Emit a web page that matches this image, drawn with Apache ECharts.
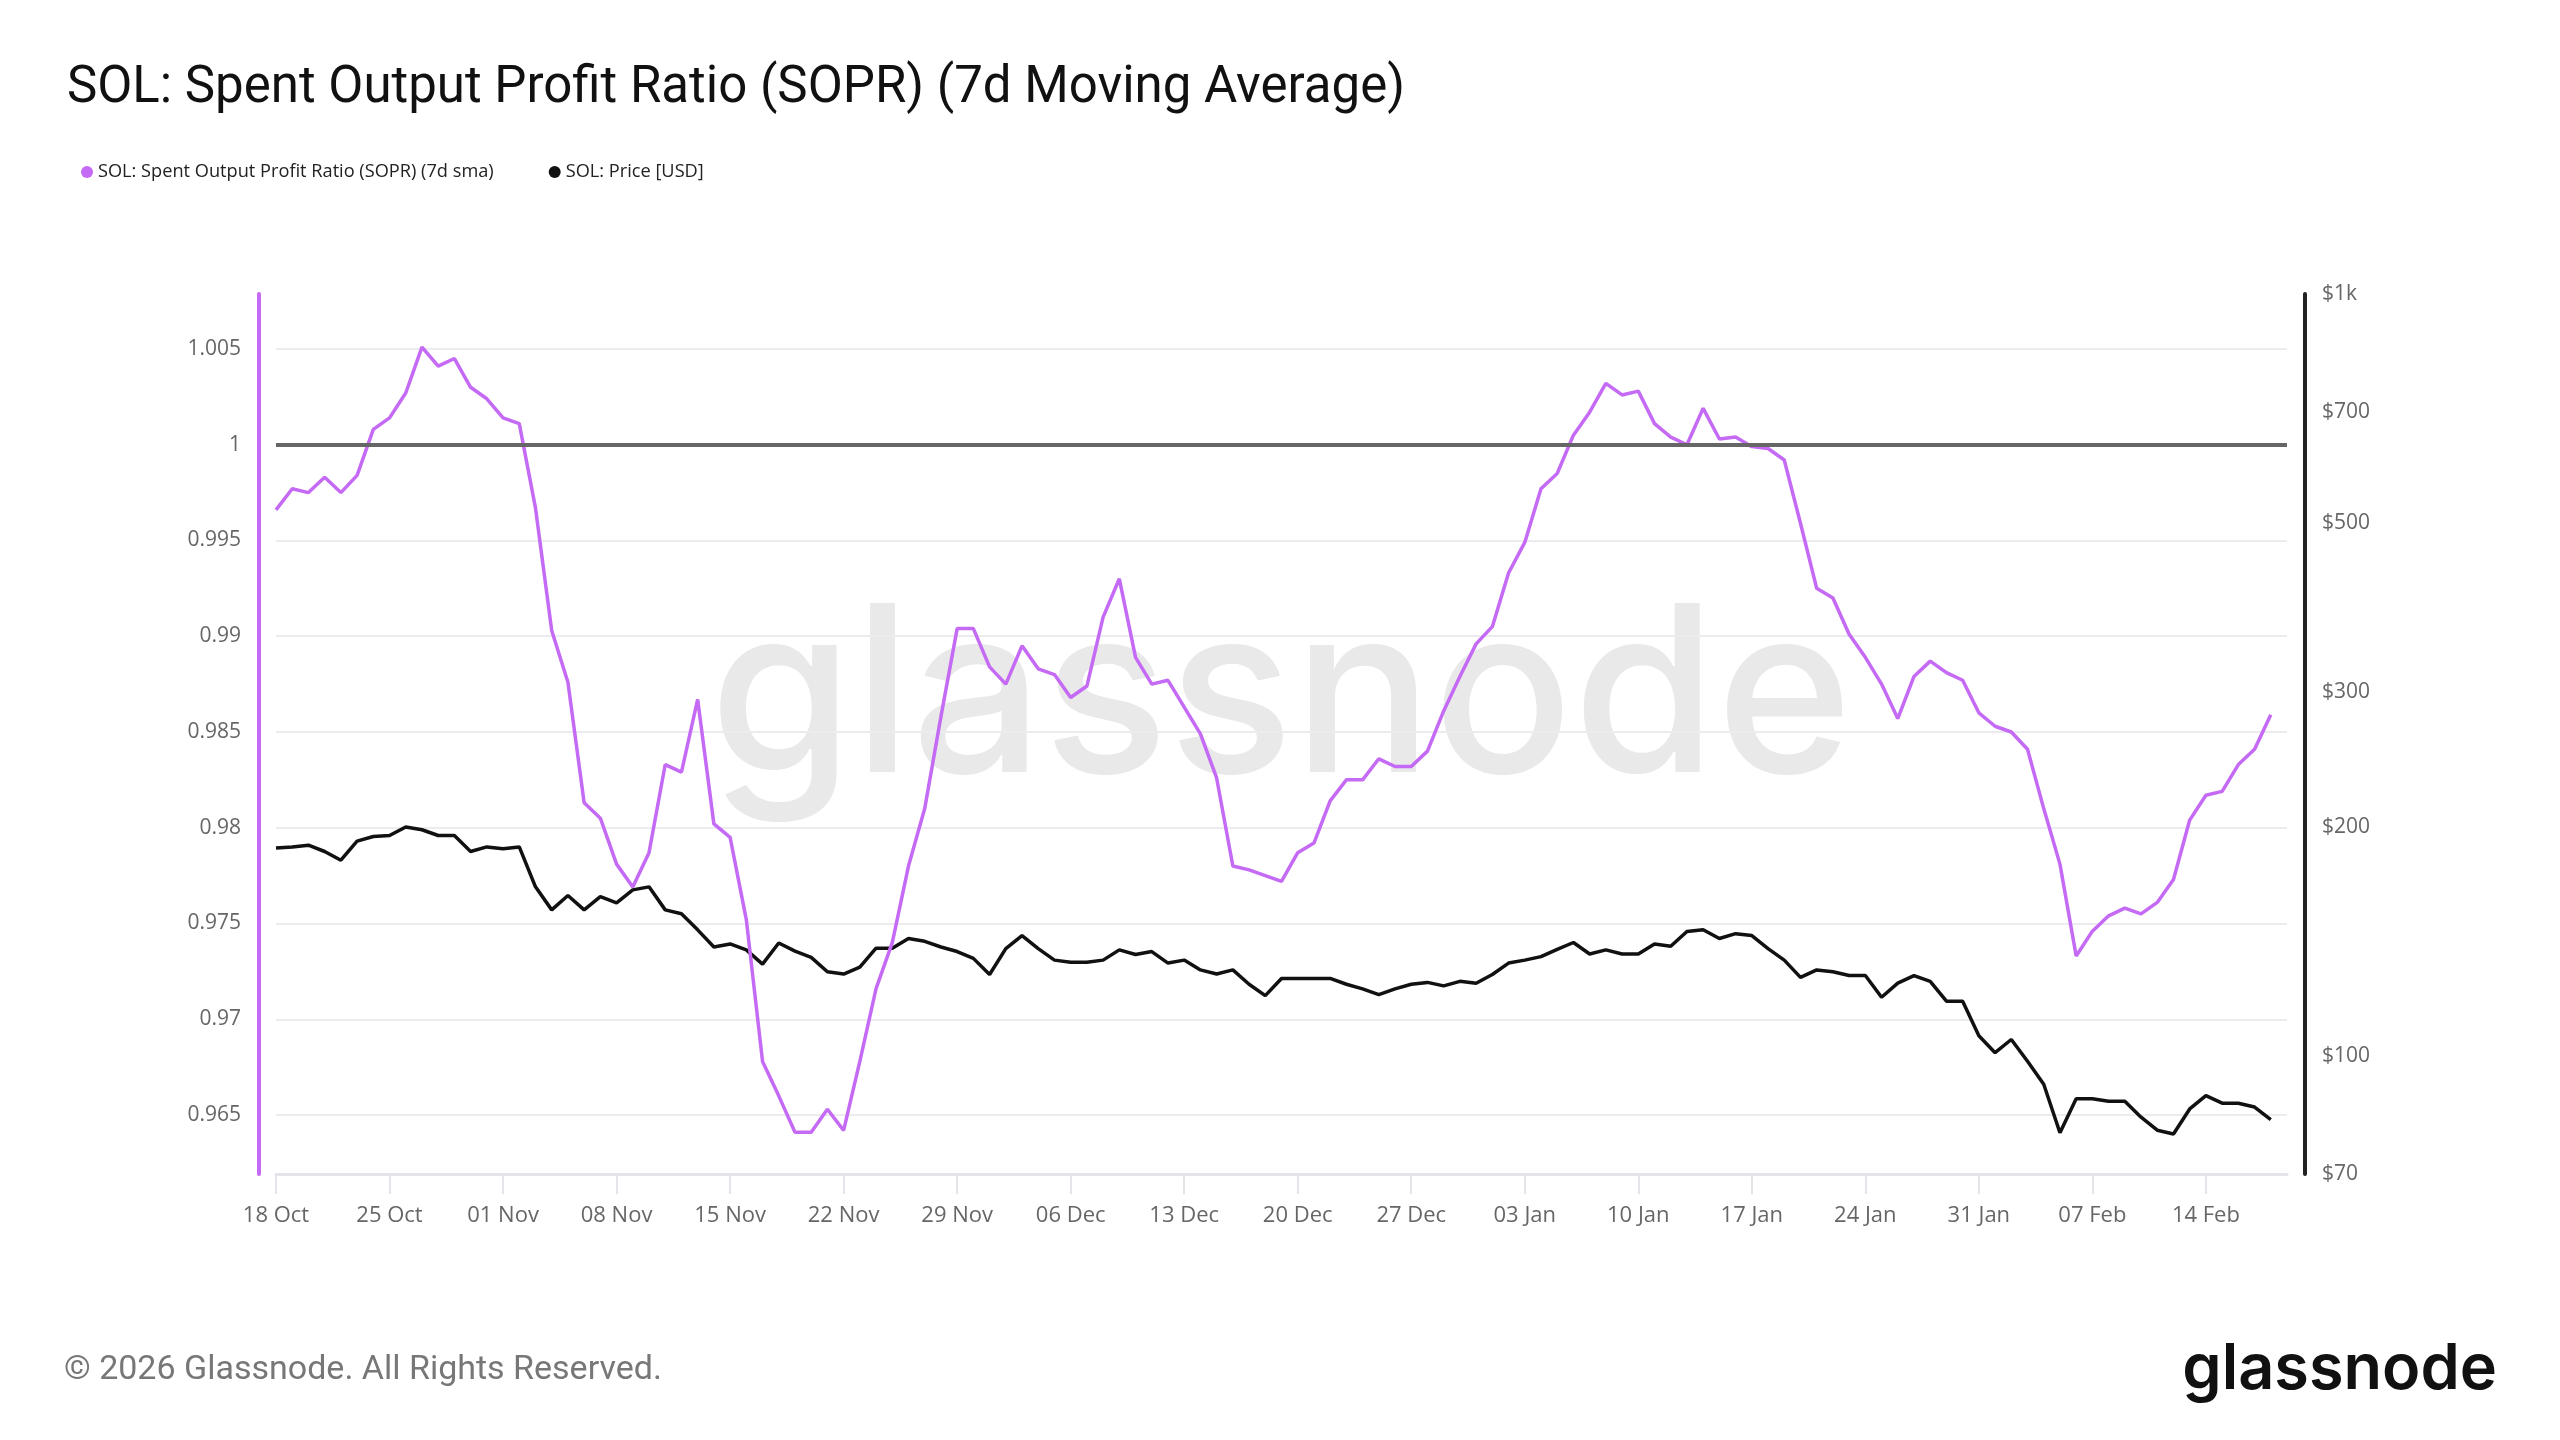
<!DOCTYPE html>
<html>
<head>
<meta charset="utf-8">
<script src="https://cdn.jsdelivr.net/npm/echarts@6.0.0/dist/echarts.min.js"></script>
<style>
html,body{margin:0;padding:0;background:#fff;}
#chart{width:2560px;height:1440px;}
</style>
</head>
<body>
<div id="chart"></div>
<script>
// ---- Data ----
const START_DATE = Date.UTC(2025, 9, 18); // 18 Oct 2025
const AXIS_DAYS = 125;                    // 18 Oct 2025 .. 19 Feb 2026
const MONTHS = ['Jan','Feb','Mar','Apr','May','Jun','Jul','Aug','Sep','Oct','Nov','Dec'];
const dates = [];
for (let i = 0; i < AXIS_DAYS; i++) {
  const d = new Date(START_DATE + i * 86400000);
  dates.push(String(d.getUTCDate()).padStart(2, '0') + ' ' + MONTHS[d.getUTCMonth()]);
}

const soprValues = [
  0.9966, 0.9977, 0.9975, 0.9983, 0.9975, 0.9984, 1.0008, 1.0014, 1.0027, 1.0051,
  1.0041, 1.0045, 1.0030, 1.0024, 1.0014, 1.0011, 0.9967, 0.9903, 0.9876, 0.9813,
  0.9805, 0.9781, 0.9769, 0.9787, 0.9833, 0.9829, 0.9867, 0.9802, 0.9795, 0.9752,
  0.9678, 0.9660, 0.9641, 0.9641, 0.9653, 0.9642, 0.9678, 0.9716, 0.9740, 0.9780,
  0.9810, 0.9858, 0.9904, 0.9904, 0.9884, 0.9875, 0.9895, 0.9883, 0.9880, 0.9868,
  0.9874, 0.9910, 0.9930, 0.9889, 0.9875, 0.9877, 0.9863, 0.9849, 0.9826, 0.9780,
  0.9778, 0.9775, 0.9772, 0.9787, 0.9792, 0.9814, 0.9825, 0.9825, 0.9836, 0.9832,
  0.9832, 0.9840, 0.9861, 0.9879, 0.9896, 0.9905, 0.9933, 0.9949, 0.9977, 0.9985,
  1.0005, 1.0017, 1.0032, 1.0026, 1.0028, 1.0011, 1.0004, 1.0000, 1.0019, 1.0003,
  1.0004, 0.9999, 0.9998, 0.9992, 0.9959, 0.9925, 0.9920, 0.9901, 0.9889, 0.9875,
  0.9857, 0.9879, 0.9887, 0.9881, 0.9877, 0.9860, 0.9853, 0.9850, 0.9841, 0.9810,
  0.9781, 0.9733, 0.9746, 0.9754, 0.9758, 0.9755, 0.9761, 0.9773, 0.9804, 0.9817,
  0.9819, 0.9833, 0.9841, 0.9859
];

const priceValues = [
  187.5, 188.1, 189.1, 185.5, 180.7, 191.4, 194.1, 194.7, 199.8, 198.1,
  194.7, 194.7, 185.5, 188.1, 187.1, 188.1, 166.7, 155.5, 162.4, 155.5,
  161.8, 158.8, 165.2, 166.7, 155.5, 153.7, 146.4, 139.0, 140.3, 137.8,
  132.0, 140.7, 137.3, 134.7, 129.0, 128.1, 130.8, 138.5, 138.5, 142.6,
  141.4, 139.0, 137.1, 134.3, 127.9, 138.3, 143.9, 138.3, 133.6, 132.7,
  132.7, 133.6, 137.8, 135.9, 137.1, 132.4, 133.6, 129.7, 128.1, 129.7,
  124.2, 120.0, 126.4, 126.4, 126.4, 126.4, 124.2, 122.5, 120.4, 122.5,
  124.2, 124.9, 123.6, 125.3, 124.6, 127.9, 132.4, 133.6, 135.0, 138.0,
  140.9, 136.1, 137.8, 136.1, 136.1, 140.3, 139.3, 145.7, 146.4, 142.6,
  144.7, 143.9, 138.3, 133.6, 126.8, 129.7, 129.0, 127.5, 127.5, 119.4,
  124.6, 127.5, 125.3, 118.0, 118.0, 106.3, 101.0, 105.1, 98.4, 91.8,
  79.3, 87.9, 87.9, 87.2, 87.2, 83.1, 79.9, 79.0, 85.2, 88.7,
  86.7, 86.7, 85.7, 82.5
];

const soprTicks = [0.965, 0.97, 0.975, 0.98, 0.985, 0.99, 0.995, 1, 1.005];
const soprMin = 0.96192, soprMax = 1.00787;
const priceTicks = [70, 100, 200, 300, 500, 700, 1000];
const priceMin = 70, priceMax = 1000;

const SOPR_NAME = 'SOL: Spent Output Profit Ratio (SOPR) (7d sma)';
const PRICE_NAME = 'SOL: Price [USD]';
const SOPR_COLOR = '#c46af4';
const PRICE_COLOR = '#111111';

// ---- Chart ----
const chart = echarts.init(document.getElementById('chart'), null, {renderer: 'canvas'});
const lg = v => Math.log10(v);
const priceLabel = v => {
  const p = Math.round(Math.pow(10, v));
  return p >= 1000 ? '$' + (p / 1000) + 'k' : '$' + p;
};

const option = {
  animation: false,
  backgroundColor: '#ffffff',
  title: {
    text: 'SOL: Spent Output Profit Ratio (SOPR) (7d Moving Average)',
    left: 62, top: 59,
    textStyle: {fontFamily: 'Roboto', fontSize: 51, fontWeight: 400, color: '#111111'}
  },
  legend: {
    left: 76, top: 158,
    icon: 'circle', itemWidth: 12, itemHeight: 12, itemGap: 55,
    textStyle: {fontFamily: 'Open Sans', fontSize: 18.2, color: '#222222'},
    data: [SOPR_NAME, PRICE_NAME]
  },
  grid: {left: 276, right: 273, top: 294, bottom: 266, containLabel: false},
  xAxis: {
    type: 'category',
    data: dates,
    boundaryGap: false,
    axisLine: {show: true, lineStyle: {color: '#e4e4ea', width: 3}},
    axisTick: {show: true, interval: 6, length: 20, lineStyle: {color: '#e4e4ea', width: 2}},
    axisLabel: {interval: 6, margin: 31, fontFamily: 'Open Sans', fontSize: 22, color: '#666666'},
    splitLine: {show: false}
  },
  yAxis: [
    {
      type: 'value', position: 'left', offset: 17,
      min: soprMin, max: soprMax,
      axisLine: {show: true, onZero: false, lineStyle: {color: SOPR_COLOR, width: 4}},
      axisTick: {show: false, customValues: soprTicks},
      axisLabel: {
        customValues: soprTicks, margin: 18,
        fontFamily: 'Open Sans', fontSize: 21, color: '#666666',
        formatter: v => String(Number(v.toFixed(3)))
      },
      splitLine: {show: true, lineStyle: {color: '#ececf0', width: 2}}
    },
    {
      type: 'value', position: 'right', offset: 18,
      min: lg(priceMin), max: lg(priceMax),
      axisLine: {show: true, onZero: false, lineStyle: {color: '#222222', width: 4}},
      axisTick: {show: false, customValues: priceTicks.map(lg)},
      axisLabel: {
        customValues: priceTicks.map(lg), margin: 17,
        fontFamily: 'Open Sans', fontSize: 21, color: '#666666',
        formatter: priceLabel
      },
      splitLine: {show: false}
    }
  ],
  graphic: [
    {
      type: 'text', z: -10, x: 1281, y: 702,
      style: {text: 'glassnode', fill: '#e9e9e9', font: '500 232px Inter', align: 'center', verticalAlign: 'middle'},
      silent: true
    },
    {
      type: 'text', x: 64, y: 1370,
      style: {text: '\u00A9 2026 Glassnode. All Rights Reserved.', fill: '#777777', font: '400 34px Roboto', align: 'left', verticalAlign: 'middle'}
    },
    {
      type: 'text', x: 2497, y: 1370,
      style: {text: 'glassnode', fill: '#111111', font: '600 63px Inter', align: 'right', verticalAlign: 'middle'}
    }
  ],
  series: [
    {
      name: SOPR_NAME,
      type: 'line',
      yAxisIndex: 0,
      data: soprValues,
      showSymbol: false, symbol: 'circle',
      itemStyle: {color: SOPR_COLOR},
      lineStyle: {color: SOPR_COLOR, width: 3.5},
      z: 3,
      markLine: {
        silent: true, symbol: ['none', 'none'],
        label: {show: false},
        lineStyle: {color: '#666666', width: 4, type: 'solid'},
        data: [{yAxis: 1}]
      }
    },
    {
      name: PRICE_NAME,
      type: 'line',
      yAxisIndex: 1,
      data: priceValues.map(lg),
      showSymbol: false, symbol: 'circle',
      itemStyle: {color: PRICE_COLOR},
      lineStyle: {color: PRICE_COLOR, width: 3.5},
      z: 2
    }
  ]
};
chart.setOption(option);
</script>
</body>
</html>
